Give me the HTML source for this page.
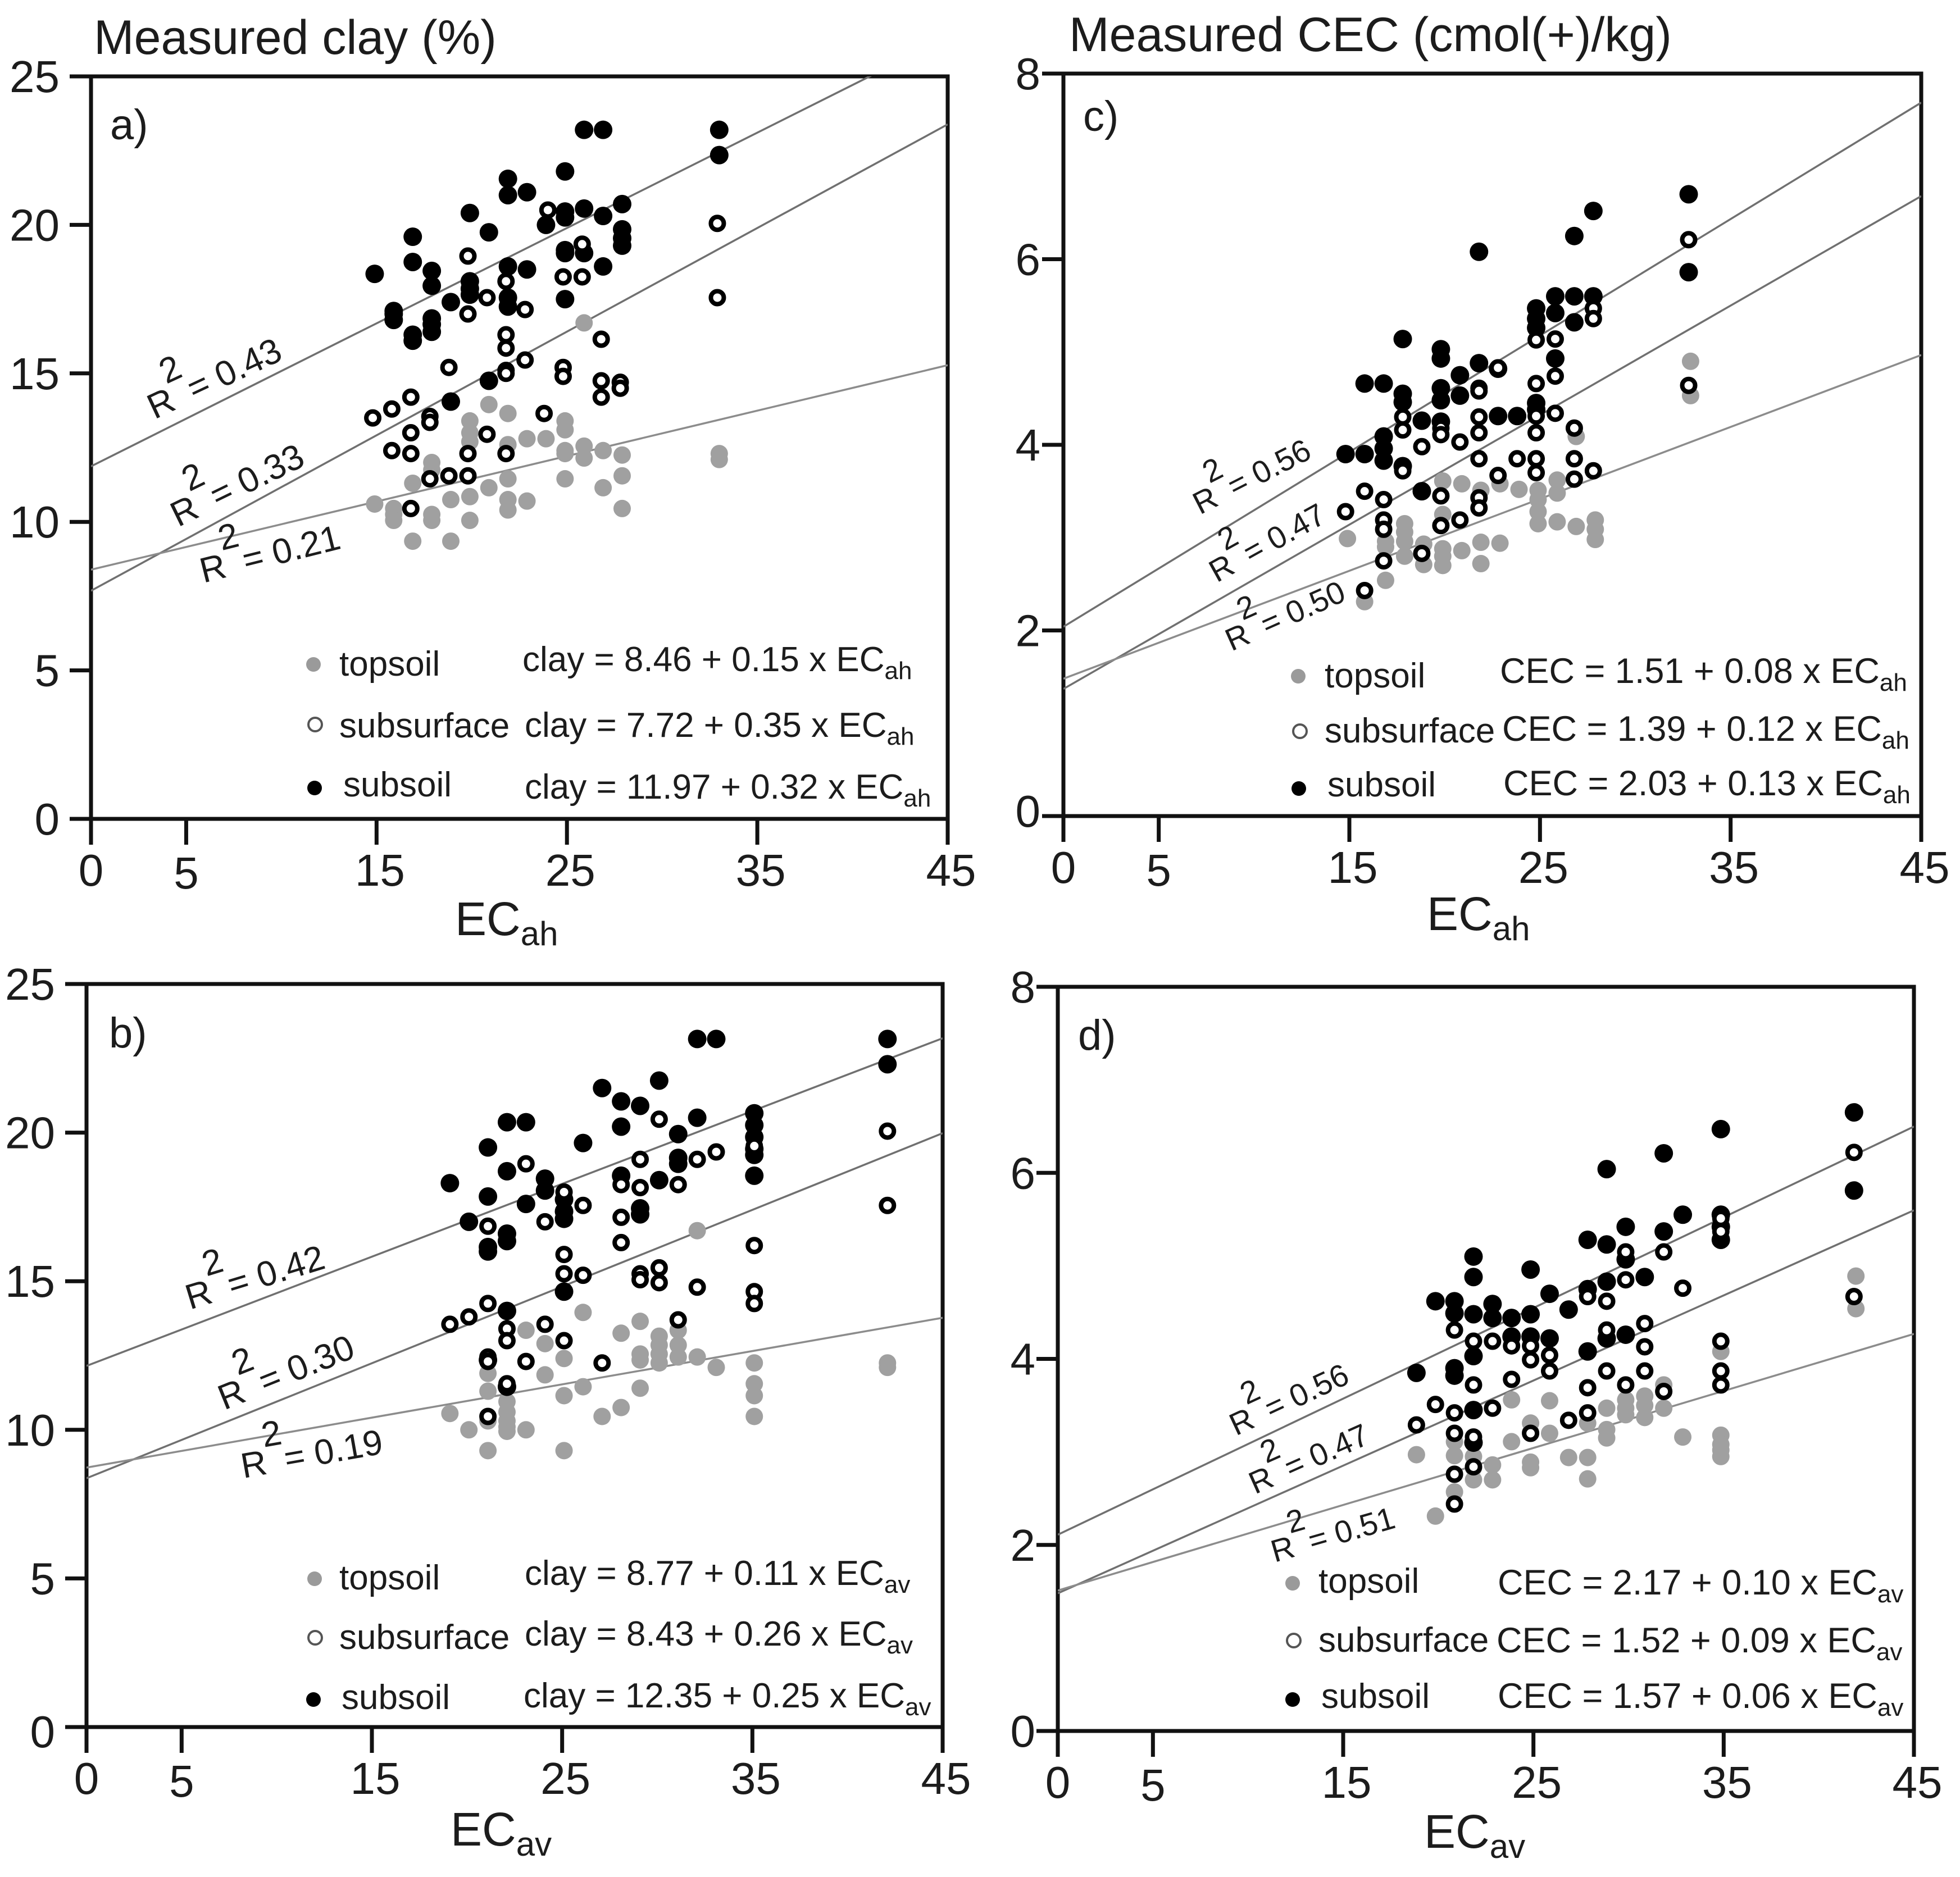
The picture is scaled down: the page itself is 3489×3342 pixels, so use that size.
<!DOCTYPE html>
<html lang="en">
<head>
<meta charset="utf-8">
<title>Measured clay and CEC versus EC</title>
<style>
html,body{margin:0;padding:0;background:#fff;}
svg{display:block;}
text{font-family:"Liberation Sans",sans-serif;fill:#1c1c1c;}
.eq{font-size:63px;}
.eqs{font-size:62px;}
.lg{font-size:62px;}
.r2{font-size:63px;}
.r2s{font-size:56px;}
.title{font-size:86px;}
.letter{font-size:76px;}
.xl{font-size:84px;}
</style>
</head>
<body>
<svg id="chart" xmlns="http://www.w3.org/2000/svg" width="3489" height="3342" viewBox="0 0 3489 3342">
<rect width="3489" height="3342" fill="#fff"/>
<defs>
<clipPath id="clip-a"><rect x="162" y="136" width="1525" height="1322"/></clipPath>
<clipPath id="clip-b"><rect x="154" y="1752" width="1524" height="1323"/></clipPath>
<clipPath id="clip-c"><rect x="1893" y="131" width="1527" height="1322"/></clipPath>
<clipPath id="clip-d"><rect x="1883" y="1757" width="1524" height="1325"/></clipPath>
</defs>

<g id="panel-a"></g>
<g id="panel-b"></g>
<g id="panel-c"></g>
<g id="panel-d"></g>

<g id="labels">
<text class="title" x="167" y="96">Measured clay (%)</text>
<text class="title" x="1903" y="91">Measured CEC (cmol(+)/kg)</text>
<text class="letter" x="196" y="248">a)</text>
<text class="letter" x="1928" y="233">c)</text>
<text class="letter" x="194" y="1865">b)</text>
<text class="letter" x="1919" y="1869">d)</text>

<text class="xl" x="810" y="1665">EC<tspan font-size="60" dy="18">ah</tspan></text>
<text class="xl" x="2540" y="1656">EC<tspan font-size="60" dy="18">ah</tspan></text>
<text class="xl" x="802" y="3286">EC<tspan font-size="60" dy="18">av</tspan></text>
<text class="xl" x="2535" y="3290">EC<tspan font-size="60" dy="18">av</tspan></text>

<!-- R squared labels -->
<text class="r2" transform="translate(275,747) rotate(-25)">R<tspan dy="-48">2</tspan><tspan dx="-20" dy="48"> = 0.43</tspan></text>
<text class="r2" transform="translate(317,939) rotate(-26)">R<tspan dy="-48">2</tspan><tspan dx="-20" dy="48"> = 0.33</tspan></text>
<text class="r2" transform="translate(362,1038) rotate(-14)">R<tspan dy="-48">2</tspan><tspan dx="-20" dy="48"> = 0.21</tspan></text>
<text class="r2" transform="translate(338,2332) rotate(-17)">R<tspan dy="-48">2</tspan><tspan dx="-20" dy="48"> = 0.42</tspan></text>
<text class="r2" transform="translate(399,2511) rotate(-22)">R<tspan dy="-48">2</tspan><tspan dx="-20" dy="48"> = 0.30</tspan></text>
<text class="r2" transform="translate(433,2632) rotate(-10)">R<tspan dy="-48">2</tspan><tspan dx="-20" dy="48"> = 0.19</tspan></text>
<text class="r2s" transform="translate(2136,917) rotate(-27)">R<tspan dy="-42">2</tspan><tspan dx="-18" dy="42"> = 0.56</tspan></text>
<text class="r2s" transform="translate(2166,1038) rotate(-29)">R<tspan dy="-42">2</tspan><tspan dx="-18" dy="42"> = 0.47</tspan></text>
<text class="r2s" transform="translate(2192,1160) rotate(-24)">R<tspan dy="-42">2</tspan><tspan dx="-18" dy="42"> = 0.50</tspan></text>
<text class="r2s" transform="translate(2200,2557) rotate(-25)">R<tspan dy="-42">2</tspan><tspan dx="-18" dy="42"> = 0.56</tspan></text>
<text class="r2s" transform="translate(2234,2661) rotate(-24)">R<tspan dy="-42">2</tspan><tspan dx="-18" dy="42"> = 0.47</tspan></text>
<text class="r2s" transform="translate(2269,2782) rotate(-16)">R<tspan dy="-42">2</tspan><tspan dx="-18" dy="42"> = 0.51</tspan></text>

<!-- legend a -->
<g>
<circle cx="558" cy="1183" r="13" fill="#9a9a9a"/>
<circle cx="561" cy="1290" r="12" fill="#fff" stroke="#555" stroke-width="4"/>
<circle cx="560" cy="1403" r="13" fill="#000"/>
<text class="lg" x="604" y="1203">topsoil</text>
<text class="lg" x="604" y="1313">subsurface</text>
<text class="lg" x="611" y="1418">subsoil</text>
<text class="eqs" x="930" y="1195">clay = 8.46 + 0.15 x EC<tspan font-size="44" dy="14">ah</tspan></text>
<text class="eqs" x="934" y="1312">clay = 7.72 + 0.35 x EC<tspan font-size="44" dy="14">ah</tspan></text>
<text class="eqs" x="934" y="1422">clay = 11.97 + 0.32 x EC<tspan font-size="44" dy="14">ah</tspan></text>
</g>
<!-- legend c -->
<g>
<circle cx="2311" cy="1204" r="13" fill="#9a9a9a"/>
<circle cx="2314" cy="1302" r="12" fill="#fff" stroke="#555" stroke-width="4"/>
<circle cx="2312" cy="1404" r="13" fill="#000"/>
<text class="lg" x="2358" y="1224">topsoil</text>
<text class="lg" x="2358" y="1322">subsurface</text>
<text class="lg" x="2363" y="1418">subsoil</text>
<text class="eq" x="2670" y="1216">CEC = 1.51 + 0.08 x EC<tspan font-size="44" dy="14">ah</tspan></text>
<text class="eq" x="2674" y="1319">CEC = 1.39 + 0.12 x EC<tspan font-size="44" dy="14">ah</tspan></text>
<text class="eq" x="2676" y="1416">CEC = 2.03 + 0.13 x EC<tspan font-size="44" dy="14">ah</tspan></text>
</g>
<!-- legend b -->
<g>
<circle cx="560" cy="2811" r="13" fill="#9a9a9a"/>
<circle cx="561" cy="2916" r="12" fill="#fff" stroke="#555" stroke-width="4"/>
<circle cx="558" cy="3026" r="13" fill="#000"/>
<text class="lg" x="604" y="2830">topsoil</text>
<text class="lg" x="604" y="2936">subsurface</text>
<text class="lg" x="608" y="3043">subsoil</text>
<text class="eqs" x="934" y="2822">clay = 8.77 + 0.11 x EC<tspan font-size="44" dy="14">av</tspan></text>
<text class="eqs" x="934" y="2930">clay = 8.43 + 0.26 x EC<tspan font-size="44" dy="14">av</tspan></text>
<text class="eqs" x="932" y="3040">clay = 12.35 + 0.25 x EC<tspan font-size="44" dy="14">av</tspan></text>
</g>
<!-- legend d -->
<g>
<circle cx="2301" cy="2819" r="13" fill="#9a9a9a"/>
<circle cx="2303" cy="2921" r="12" fill="#fff" stroke="#555" stroke-width="4"/>
<circle cx="2301" cy="3026" r="13" fill="#000"/>
<text class="lg" x="2347" y="2836">topsoil</text>
<text class="lg" x="2347" y="2941">subsurface</text>
<text class="lg" x="2352" y="3041">subsoil</text>
<text class="eq" x="2666" y="2839">CEC = 2.17 + 0.10 x EC<tspan font-size="44" dy="14">av</tspan></text>
<text class="eq" x="2664" y="2942">CEC = 1.52 + 0.09 x EC<tspan font-size="44" dy="14">av</tspan></text>
<text class="eq" x="2666" y="3041">CEC = 1.57 + 0.06 x EC<tspan font-size="44" dy="14">av</tspan></text>
</g>
</g>
</svg>

<script>
// Shared axis tick labels
const xTicks = [0, 5, 15, 25, 35, 45];
const clayTicks = [0, 5, 10, 15, 20, 25];
const cecTicks = [0, 2, 4, 6, 8];

// Regression lines: subsoil, subsurface, topsoil
const aLineIntercepts = [11.87, 7.68, 8.39];
const aLineSlopes = [0.321, 0.349, 0.153];
const bLineIntercepts = [12.15, 8.37, 8.73];
const bLineSlopes = [0.245, 0.258, 0.112];
const cLineIntercepts = [2.04, 1.37, 1.48];
const cLineSlopes = [0.1255, 0.118, 0.0775];
const dLineIntercepts = [2.11, 1.48, 1.51];
const dLineSlopes = [0.0975, 0.0915, 0.0613];

// Panel a: clay vs EC_ah, [EC, value]
const aSubsoil = [[14.9,18.35],[15.9,17.1],[15.9,16.8],[15.9,17],[16.9,19.6],[16.9,18.75],[16.9,16.3],[16.9,16.1],[17.9,18.45],[17.9,17.95],[17.9,16.85],[17.9,16.65],[17.9,16.4],[18.9,17.4],[18.9,14.05],[19.9,20.4],[19.9,18.1],[19.9,17.85],[19.9,17.65],[20.9,19.75],[20.9,14.75],[21.9,21.55],[21.9,21],[21.9,18.6],[21.9,17.55],[21.9,17.25],[22.9,21.1],[22.9,18.5],[23.9,20],[24.9,21.8],[24.9,20.45],[24.9,20.25],[24.9,19.15],[24.9,19.05],[24.9,17.5],[25.9,23.2],[25.9,20.55],[25.9,19.05],[26.9,23.2],[26.9,20.3],[26.9,18.6],[27.9,20.7],[27.9,19.85],[27.9,19.55],[27.9,19.3],[33,23.2],[33,22.35]];
const aSubsurface = [[14.8,13.5],[15.8,13.8],[15.8,12.4],[16.8,14.2],[16.8,13],[16.8,12.3],[16.8,10.45],[17.8,13.55],[17.8,13.35],[17.8,11.45],[18.8,15.2],[18.8,11.55],[19.8,18.95],[19.8,17],[19.8,12.3],[19.8,11.55],[20.8,17.55],[20.8,12.95],[21.8,18.1],[21.8,16.3],[21.8,15.85],[21.8,15.1],[21.8,15],[21.8,12.3],[22.8,17.15],[22.8,15.45],[23.8,13.65],[24,20.5],[24.8,18.25],[24.8,15.2],[24.8,14.9],[25.8,19.35],[25.8,18.25],[26.8,16.15],[26.8,14.75],[26.8,14.2],[27.8,14.7],[27.8,14.5],[32.9,20.05],[32.9,17.55]];
const aTopsoil = [[14.9,10.6],[15.9,10.45],[15.9,10.25],[15.9,10.05],[16.9,11.3],[16.9,9.35],[17.9,12],[17.9,11.75],[17.9,10.25],[17.9,10.05],[18.9,10.75],[18.9,9.35],[19.9,13.4],[19.9,13],[19.9,12.7],[19.9,10.85],[19.9,10.05],[20.9,13.95],[20.9,11.15],[21.9,13.65],[21.9,12.6],[21.9,11.45],[21.9,10.75],[21.9,10.4],[22.9,12.8],[22.9,10.7],[23.9,12.8],[24.9,13.4],[24.9,13.1],[24.9,12.4],[24.9,12.3],[24.9,11.45],[25.9,16.7],[25.9,12.55],[25.9,12.15],[26.9,12.4],[26.9,11.15],[27.9,12.25],[27.9,11.55],[27.9,10.45],[33,12.3],[33,12.1]];

// Panel b: clay vs EC_av
const bSubsoil = [[19.1,18.3],[20.1,17],[21.1,19.5],[21.1,17.85],[21.1,16.15],[21.1,16],[21.1,12.35],[22.1,20.35],[22.1,18.7],[22.1,16.6],[22.1,16.35],[22.1,14],[22.1,11.45],[23.1,20.35],[23.1,17.6],[24.1,18.45],[24.1,18.05],[25.1,17.75],[25.1,17.35],[25.1,17.1],[25.1,14.65],[26.1,19.65],[27.1,21.5],[28.1,21.05],[28.1,20.2],[28.1,18.55],[29.1,20.9],[29.1,17.45],[29.1,17.25],[30.1,21.75],[30.1,18.4],[31.1,19.95],[31.1,19.15],[31.1,18.95],[32.1,23.15],[32.1,20.5],[33.1,23.15],[35.1,20.65],[35.1,20.25],[35.1,19.85],[35.1,19.45],[35.1,19.25],[35.1,18.55],[42.1,23.15],[42.1,22.3]];
const bSubsurface = [[19.1,13.55],[20.1,13.8],[21.1,14.25],[21.1,12.45],[21.1,12.3],[21.1,10.45],[21.1,16.85],[22.1,13.4],[22.1,13],[22.1,11.55],[23.1,18.95],[23.1,12.3],[24.1,17],[24.1,13.55],[25.1,18],[25.1,15.9],[25.1,15.25],[25.1,13],[26.1,17.55],[26.1,15.2],[27.1,12.25],[28.1,18.25],[28.1,17.15],[28.1,16.3],[29.1,19.1],[29.1,18.15],[29.1,15.25],[29.1,15.05],[30.1,20.45],[30.1,15.45],[30.1,14.95],[31.1,18.25],[31.1,13.7],[32.1,19.1],[32.1,14.8],[33.1,19.35],[35.1,19.55],[35.1,16.2],[35.1,14.65],[35.1,14.25],[42.1,20.05],[42.1,17.55]];
const bTopsoil = [[19.1,10.55],[20.1,10],[21.1,11.9],[21.1,11.3],[21.1,10.3],[21.1,9.3],[22.1,10.95],[22.1,10.6],[22.1,10.3],[22.1,10.1],[22.1,9.95],[23.1,13.35],[23.1,10],[24.1,12.9],[24.1,11.85],[25.1,12.4],[25.1,11.15],[25.1,9.3],[26.1,13.95],[26.1,11.45],[27.1,10.45],[28.1,13.25],[28.1,10.75],[29.1,13.65],[29.1,12.55],[29.1,12.35],[29.1,11.4],[30.1,13.15],[30.1,12.85],[30.1,12.55],[30.1,12.25],[31.1,13.35],[31.1,12.85],[31.1,12.45],[32.1,16.7],[32.1,12.45],[33.1,12.1],[35.1,12.25],[35.1,11.55],[35.1,11.15],[35.1,10.45],[42.1,12.25],[42.1,12.1]];

// Panel c: CEC vs EC_ah
const cSubsoil = [[14.8,3.9],[15.8,4.66],[15.8,3.9],[16.8,4.66],[16.8,4.09],[16.8,3.96],[16.8,3.83],[17.8,5.14],[17.8,4.55],[17.8,4.46],[17.8,3.77],[18.8,4.26],[18.8,3.5],[19.8,5.03],[19.8,4.93],[19.8,4.61],[19.8,4.48],[19.8,4.25],[20.8,4.75],[20.8,4.53],[21.8,6.08],[21.8,4.88],[22.8,4.31],[22.8,4.82],[23.8,4.31],[24.8,5.47],[24.8,5.36],[24.8,5.26],[24.8,4.45],[24.8,4.38],[25.8,5.6],[25.8,5.42],[25.8,4.93],[26.8,6.25],[26.8,5.6],[26.8,5.32],[27.8,6.52],[27.8,5.6],[32.8,6.7],[32.8,5.86]];
const cSubsurface = [[14.8,3.28],[15.8,3.5],[15.8,2.43],[16.8,3.41],[16.8,3.19],[16.8,3.09],[16.8,2.75],[17.8,4.3],[17.8,4.16],[17.8,3.72],[18.8,3.98],[18.8,2.83],[19.8,4.18],[19.8,4.11],[19.8,3.45],[19.8,3.13],[20.8,4.03],[20.8,3.19],[21.8,4.61],[21.8,4.58],[21.8,4.3],[21.8,4.13],[21.8,3.85],[21.8,3.43],[21.8,3.32],[22.8,4.83],[22.8,3.67],[23.8,3.85],[24.8,5.13],[24.8,4.66],[24.8,4.31],[24.8,4.13],[24.8,3.85],[24.8,3.7],[25.8,5.14],[25.8,4.74],[25.8,4.34],[26.8,4.18],[26.8,3.85],[26.8,3.63],[27.8,5.47],[27.8,5.36],[27.8,3.72],[32.8,6.21],[32.8,4.64]];
const cTopsoil = [[14.9,2.99],[15.8,2.31],[16.9,2.96],[16.9,2.9],[16.9,2.54],[17.9,3.15],[17.9,3.06],[17.9,2.96],[17.9,2.8],[18.9,2.93],[18.9,2.71],[19.9,3.61],[19.9,3.25],[19.9,2.88],[19.9,2.8],[19.9,2.7],[20.9,3.58],[20.9,2.86],[21.9,3.51],[21.9,2.95],[21.9,2.72],[22.9,3.58],[22.9,2.94],[23.9,3.52],[24.9,3.51],[24.9,3.41],[24.9,3.28],[24.9,3.15],[25.9,3.62],[25.9,3.48],[25.9,3.17],[26.9,3.12],[26.9,4.09],[27.9,3.19],[27.9,3.09],[27.9,2.98],[32.9,4.9],[32.9,4.53]];

// Panel d: CEC vs EC_av
const dSubsoil = [[18.85,3.85],[19.85,4.62],[20.85,4.62],[20.85,4.49],[20.85,3.9],[20.85,3.82],[21.85,5.1],[21.85,4.88],[21.85,4.48],[21.85,4.03],[21.85,3.45],[21.85,3.1],[22.85,4.59],[22.85,4.44],[23.85,4.44],[23.85,4.24],[24.85,4.96],[24.85,4.48],[24.85,4.24],[25.85,4.7],[25.85,4.22],[26.85,4.53],[27.85,5.28],[27.85,4.75],[27.85,4.08],[28.85,6.04],[28.85,5.23],[28.85,4.83],[28.85,4.22],[29.85,5.42],[29.85,5.07],[29.85,4.26],[30.85,4.88],[31.85,6.21],[31.85,5.37],[32.85,5.55],[34.85,6.47],[34.85,5.55],[34.85,5.42],[34.85,5.28],[41.85,6.65],[41.85,5.81]];
const dSubsurface = [[18.85,3.29],[19.85,3.51],[20.85,4.31],[20.85,3.42],[20.85,3.2],[20.85,2.76],[20.85,2.44],[21.85,4.19],[21.85,3.72],[21.85,3.16],[21.85,2.84],[22.85,4.19],[22.85,3.47],[23.85,4.14],[23.85,3.78],[24.85,4.14],[24.85,3.99],[24.85,3.2],[25.85,4.04],[25.85,3.87],[26.85,3.34],[27.85,4.67],[27.85,3.69],[27.85,3.42],[28.85,4.62],[28.85,4.31],[28.85,3.87],[29.85,5.15],[29.85,4.85],[29.85,3.72],[30.85,4.38],[30.85,4.13],[30.85,3.87],[31.85,5.15],[31.85,3.65],[32.85,4.76],[34.85,5.51],[34.85,5.37],[34.85,4.19],[34.85,3.87],[34.85,3.72],[41.85,6.22],[41.85,4.67]];
const dTopsoil = [[18.85,2.97],[19.85,2.31],[20.85,3.11],[20.85,2.96],[20.85,2.57],[21.85,2.95],[21.85,2.83],[21.85,2.7],[22.85,2.86],[22.85,2.7],[23.85,3.56],[23.85,3.11],[24.85,3.31],[24.85,3.21],[24.85,2.89],[24.85,2.83],[25.85,3.55],[25.85,3.2],[26.85,2.94],[27.85,3.31],[27.85,2.94],[27.85,2.71],[28.85,3.47],[28.85,3.24],[28.85,3.15],[29.85,3.56],[29.85,3.47],[29.85,3.4],[30.85,3.6],[30.85,3.5],[30.85,3.37],[31.85,3.72],[31.85,3.47],[32.85,3.16],[34.85,4.08],[34.85,3.18],[34.85,3.08],[34.85,3.02],[34.85,2.95],[41.95,4.89],[41.95,4.54]];

const NS = 'http://www.w3.org/2000/svg';

function svgEl(parent, tag, attrs) {
  const el = document.createElementNS(NS, tag);
  for (const k in attrs) el.setAttribute(k, attrs[k]);
  parent.appendChild(el);
  return el;
}

function drawPanel(id, box, yMax, yTicks, intercepts, slopes, topsoil, subsurface, subsoil) {
  const g = document.getElementById('panel-' + id);
  const sx = v => box.left + (v / 45) * (box.right - box.left);
  const sy = v => box.bottom - (v / yMax) * (box.bottom - box.top);

  const frame = svgEl(g, 'rect', {x: box.left, y: box.top, width: box.right - box.left, height: box.bottom - box.top, fill: 'none', stroke: '#111', 'stroke-width': 7});
  
  

  xTicks.forEach(v => {
    const t = svgEl(g, 'line', {x1: sx(v), x2: sx(v), y1: box.bottom, y2: box.bottom + 46, stroke: '#111', 'stroke-width': 7});
    
    
    const l = svgEl(g, 'text', {x: sx(v) + (v >= 15 ? 6 : 0), y: box.bottom + 119 + (v === 5 ? 5 : 0), 'text-anchor': 'middle', 'font-size': 80});
    l.textContent = String(v);
    
    
  });

  yTicks.forEach(v => {
    const t = svgEl(g, 'line', {x1: box.left - 38, x2: box.left, y1: sy(v), y2: sy(v), stroke: '#111', 'stroke-width': 7});
    
    
    const l = svgEl(g, 'text', {x: box.left - box.labelGap, y: sy(v) + 28 + (v === 0 ? box.zeroDy : 0), 'text-anchor': 'end', 'font-size': 80});
    l.textContent = String(v);
    
    
  });

  const plot = svgEl(g, 'g', {'clip-path': 'url(#clip-' + id + ')'});
  
  

  const lineNames = ['subsoil', 'subsurface', 'topsoil'];
  const lineColors = ['#707070', '#707070', '#8c8c8c'];
  intercepts.forEach((b, i) => {
    const ln = svgEl(plot, 'line', {x1: sx(0), y1: sy(b), x2: sx(45), y2: sy(b + slopes[i] * 45), stroke: lineColors[i], 'stroke-width': 3.5});
    
    
  });

  topsoil.forEach(p => {
    const c = svgEl(g, 'circle', {cx: sx(p[0]), cy: sy(p[1]), r: 15.5, fill: '#a0a0a0'});
    
    
  });
  subsoil.forEach(p => {
    const c = svgEl(g, 'circle', {cx: sx(p[0]), cy: sy(p[1]), r: 16.5, fill: '#000'});
    
    
  });
  subsurface.forEach(p => {
    const c = svgEl(g, 'circle', {cx: sx(p[0]), cy: sy(p[1]), r: 11.5, fill: '#fff', stroke: '#000', 'stroke-width': 8});
    
    
  });
}

drawPanel('a', {left: 162, right: 1687, top: 136, bottom: 1458, labelGap: 56, zeroDy: 0}, 25, clayTicks, aLineIntercepts, aLineSlopes, aTopsoil, aSubsurface, aSubsoil);
drawPanel('b', {left: 154, right: 1678, top: 1752, bottom: 3075, labelGap: 56, zeroDy: 8}, 25, clayTicks, bLineIntercepts, bLineSlopes, bTopsoil, bSubsurface, bSubsoil);
drawPanel('c', {left: 1893, right: 3420, top: 131, bottom: 1453, labelGap: 41, zeroDy: -9}, 8, cecTicks, cLineIntercepts, cLineSlopes, cTopsoil, cSubsurface, cSubsoil);
drawPanel('d', {left: 1883, right: 3407, top: 1757, bottom: 3082, labelGap: 40, zeroDy: 0}, 8, cecTicks, dLineIntercepts, dLineSlopes, dTopsoil, dSubsurface, dSubsoil);
</script>
</body>
</html>
